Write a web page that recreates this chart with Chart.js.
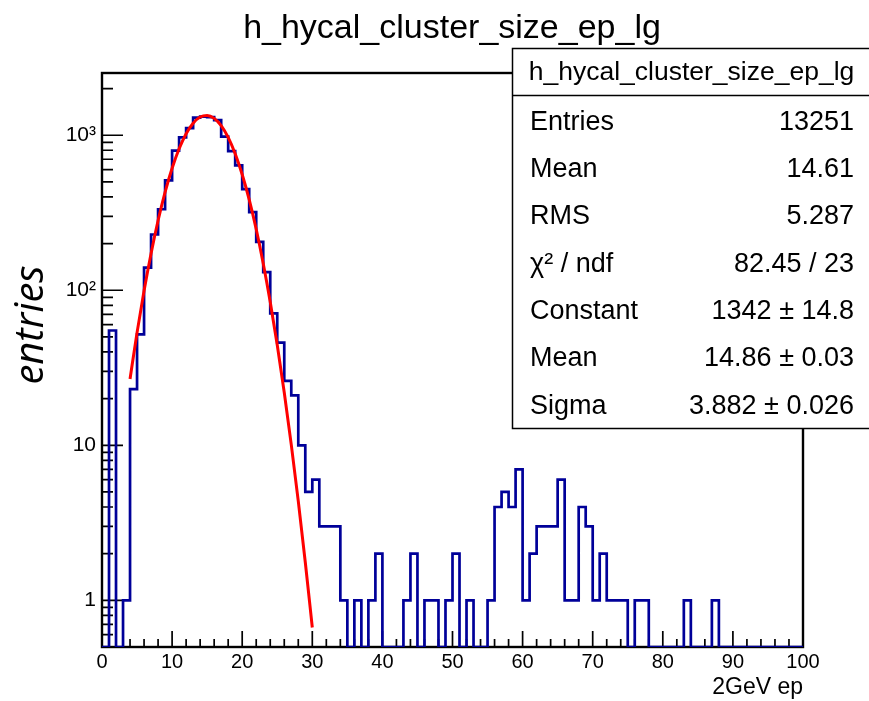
<!DOCTYPE html>
<html><head><meta charset="utf-8">
<script src="https://cdn.jsdelivr.net/npm/chart.js@4.4.0/dist/chart.umd.min.js"></script>
<style>html,body{margin:0;padding:0;background:#fff;overflow:hidden}canvas{display:block}</style>
</head><body>
<canvas id="c" width="869" height="701"></canvas>
<script>
// ---- data ----
const chartTitle = 'h_hycal_cluster_size_ep_lg';
const xAxisTitle = '2GeV ep';
const yAxisTitle = 'entries';
const binStart = 0;      // low edge of first bin
const binWidth = 1;
// entries per bin, bins [0,1) ... [99,100)
const counts = [
  0, 55, 0, 1, 23, 52, 140, 229, 333, 512,
  795, 970, 1110, 1300, 1320, 1310, 1250, 980, 790, 640,
  449, 319, 205, 131, 71, 46, 26, 21, 10, 5,
  6, 3, 3, 3, 1, 0, 1, 0, 1, 2,
  0, 0, 0, 1, 2, 0, 1, 1, 0, 1,
  2, 0, 1, 0, 0, 1, 4, 5, 4, 7,
  1, 2, 3, 3, 3, 6, 1, 1, 4, 3,
  1, 2, 1, 1, 1, 0, 1, 1, 0, 0,
  0, 0, 0, 1, 0, 0, 0, 1, 0, 0,
  0, 0, 0, 0, 0, 0, 0, 0, 0, 0
];
// red gaussian fit curve, read at x = 4 ... 30
const fitX = [4,5,6,7,8,9,10,11,12,13,14,15,16,17,18,19,20,21,22,23,24,25,26,27,28,29,30];
const fitY = [26.8,53.3,99.2,172.7,281.7,429.5,612.9,818.6,1023,1196,1310,1341,1285,1153,967.7,759.8,558.5,384.2,247.3,148.9,83.9,44.3,21.9,10.1,4.36,1.76,0.668];
const xMin = 0, xMax = 100;
const yMin = 0.5, yMax = 2520;
const yTickValues = [1, 10, 100, 1000];
const yTickLabels = ['1', '10', '10\u00B2', '10\u00B3'];
const xTickStep = 10;
const statsTitle = 'h_hycal_cluster_size_ep_lg';
const statsLabels = ['Entries', 'Mean', 'RMS', '\u03C7\u00B2 / ndf', 'Constant', 'Mean', 'Sigma'];
const statsValues = ['13251', '14.61', '5.287', '82.45 / 23', '1342 \u00B1 14.8', '14.86 \u00B1 0.03', '3.882 \u00B1 0.026'];

// ---- build library data ----
const histPoints = counts.map((v, i) => ({ x: binStart + i * binWidth, y: v > 0 ? v : yMin }));
histPoints.push({ x: binStart + counts.length * binWidth, y: histPoints[histPoints.length - 1].y });
const fitPoints = fitX.map((x, i) => ({ x: x, y: fitY[i] }));

const FONT = "'Liberation Sans', Arial, Helvetica, sans-serif";

const framePlugin = {
  id: 'rootFrame',
  beforeDatasetsDraw(chart) {
    const { ctx, chartArea: a, scales: { x, y } } = chart;
    ctx.save();
    ctx.strokeStyle = '#000';
    ctx.lineWidth = 2.4;
    ctx.strokeRect(a.left, a.top, a.right - a.left, a.bottom - a.top);
    ctx.lineWidth = 1.7;
    ctx.beginPath();
    for (let e = -1; e <= 4; e++) {
      for (let m = 1; m <= 9; m++) {
        const v = m * Math.pow(10, e);
        if (v < y.min - 1e-9 || v > y.max) continue;
        const py = y.getPixelForValue(v);
        const len = m === 1 ? 21 : 11;
        ctx.moveTo(a.left, py); ctx.lineTo(a.left + len, py);
      }
    }
    for (let v = xMin; v <= xMax; v += 2) {
      const px = x.getPixelForValue(v);
      const len = v % 10 === 0 ? 16 : 8;
      ctx.moveTo(px, a.bottom); ctx.lineTo(px, a.bottom - len);
    }
    ctx.stroke();
    ctx.restore();
  },
  afterDraw(chart) {
    const { ctx, chartArea: a } = chart;
    ctx.save();
    ctx.fillStyle = '#000';
    // main title
    ctx.font = '34px ' + FONT;
    ctx.textAlign = 'center';
    ctx.textBaseline = 'alphabetic';
    ctx.fillText(chartTitle, 452, 38);
    // x title
    ctx.font = '23px ' + FONT;
    ctx.textAlign = 'right';
    ctx.fillText(xAxisTitle, a.right, 694);
    // y title
    ctx.save();
    ctx.translate(43, 325);
    ctx.rotate(-Math.PI / 2);
    ctx.font = "italic 40px 'Open Sans', 'DejaVu Sans', sans-serif";
    ctx.textAlign = 'center';
    ctx.fillText(yAxisTitle, 0, 0);
    ctx.restore();
    // stats box
    const bx = 512.5, by = 48.5, bw = 870 - 512.5, bh = 428.5 - 48.5;
    ctx.fillStyle = '#fff';
    ctx.fillRect(bx, by, bw, bh);
    ctx.strokeStyle = '#000';
    ctx.lineWidth = 1.5;
    ctx.strokeRect(bx, by, bw, bh);
    ctx.beginPath(); ctx.moveTo(bx, 95.5); ctx.lineTo(bx + bw, 95.5); ctx.stroke();
    ctx.fillStyle = '#000';
    ctx.font = '26.5px ' + FONT;
    ctx.textAlign = 'center';
    ctx.fillText(statsTitle, 691.5, 80);
    ctx.font = '27px ' + FONT;
    for (let i = 0; i < statsLabels.length; i++) {
      const yb = 129.7 + i * 47.3;
      ctx.textAlign = 'left';
      ctx.fillText(statsLabels[i], 530, yb);
      ctx.textAlign = 'right';
      ctx.fillText(statsValues[i], 854, yb);
    }
    ctx.restore();
  }
};

new Chart(document.getElementById('c'), {
  type: 'line',
  data: {
    datasets: [
      { label: 'hist', data: histPoints, stepped: true, borderColor: '#000099', borderWidth: 2.7,
        pointRadius: 0, fill: false, order: 2 },
      { label: 'fit', data: fitPoints, borderColor: '#ff0000', borderWidth: 3, pointRadius: 0,
        fill: false, cubicInterpolationMode: 'monotone', order: 1 }
    ]
  },
  options: {
    responsive: false,
    animation: false,
    events: [],
    layout: { padding: { top: 73, right: 66, left: 0, bottom: 0 } },
    plugins: { legend: { display: false }, tooltip: { enabled: false }, title: { display: false } },
    scales: {
      x: {
        type: 'linear', min: xMin, max: xMax,
        grid: { display: false, drawTicks: false }, border: { display: false },
        ticks: { stepSize: xTickStep, color: '#000', padding: 3, maxRotation: 0, autoSkip: false,
          font: { family: FONT, size: 20 } },
        afterFit(s) { s.height = 54; }
      },
      y: {
        type: 'logarithmic', min: yMin, max: yMax,
        grid: { display: false, drawTicks: false }, border: { display: false },
        ticks: { color: '#000', padding: 6, font: { family: FONT, size: 21 },
          callback: (v) => { const k = yTickValues.indexOf(v); return k >= 0 ? yTickLabels[k] : ''; } },
        afterBuildTicks(s) { s.ticks = yTickValues.map(v => ({ value: v })); },
        afterFit(s) { s.width = 102; }
      }
    }
  },
  plugins: [framePlugin]
});
</script>
</body></html>
